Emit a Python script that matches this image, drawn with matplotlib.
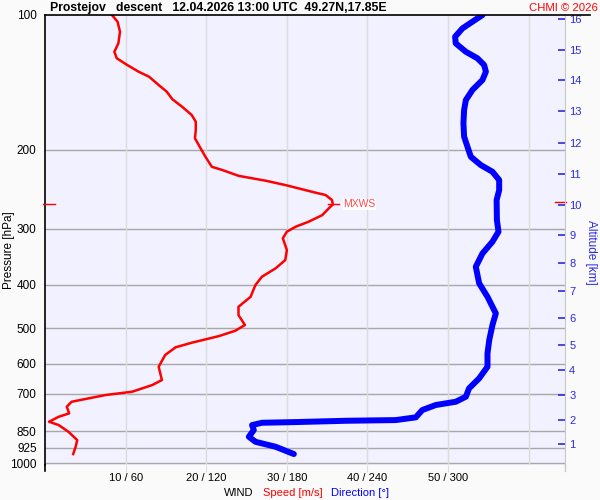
"""
Wind profile from a radiosonde descent: speed and direction versus pressure,
with altitude ticks on the right.
"""

import matplotlib
matplotlib.use('Agg')
import matplotlib.pyplot as plt
from matplotlib.lines import Line2D


TITLE = 'Prostejov   descent   12.04.2026 13:00 UTC  49.27N,17.85E'

# wind speed [m/s] against pressure [hPa]
SPEED_PRESSURE = [
    100, 103.5, 109.0, 115.7, 120.8, 124.9, 129.3, 133.8, 137.3, 143.3,
    148.3, 154.2, 160.2, 167.2, 173.0, 180.6, 188.5, 198.4, 207.2, 218.2,
    221.8, 228.5, 234.4, 239.6, 244.9, 249.3, 252.2, 258.8, 264.8, 270.1,
    279.6, 289.3, 296.8, 304.5, 315.0, 334.6, 352.3, 367.7, 383.9, 400.6,
    425.5, 447.9, 467.4, 492.0, 506.6, 520.6, 538.8, 551.6, 574.0, 609.6,
    652.7, 669.7, 693.1, 705.0, 729.7, 748.6, 774.6, 788.3, 808.7, 822.6,
    851.3, 888.6, 919.6, 954.7]
SPEED = [
    8.3, 9.0, 9.3, 9.1, 8.6, 8.9, 10.2, 11.6, 12.9, 14.1,
    15.1, 15.8, 17.0, 18.2, 18.7, 18.7, 18.6, 19.3, 19.9, 20.7,
    22.0, 24.0, 27.4, 29.8, 31.9, 33.6, 34.8, 35.6, 35.7, 35.2,
    34.4, 32.7, 31.1, 30.0, 29.5, 30.0, 29.8, 28.6, 26.9, 26.1,
    25.5, 24.0, 24.0, 24.8, 23.6, 21.6, 18.2, 16.2, 14.9, 14.1,
    14.5, 13.3, 10.8, 7.5, 3.3, 2.7, 3.0, 1.7, 0.5, 1.7,
    2.9, 4.0, 3.8, 3.5]

# wind direction [deg] against pressure [hPa]
DIR_PRESSURE = [
    100, 103.5, 107.1, 111.8, 115.7, 120.8, 124.9, 129.3, 133.8, 139.6,
    147.0, 154.8, 162.9, 174.5, 186.9, 196.8, 207.2, 216.3, 223.8, 233.5,
    245.9, 258.8, 286.8, 304.5, 320.6, 340.4, 364.6, 397.1, 425.5, 463.4,
    492.0, 531.4, 569.0, 609.6, 647.1, 681.1, 711.1, 729.7, 742.1, 761.5,
    790.7, 801.8, 804.7, 810.1, 812.9, 822.6, 843.9, 873.6, 896.6, 919.6,
    954.7]
DIRECTION = [
    325.6, 318.1, 310.7, 305.2, 305.7, 313.2, 321.8, 326.8, 328.1, 325.6,
    318.1, 313.2, 311.9, 311.4, 311.9, 314.4, 316.9, 324.4, 333.0, 338.0,
    338.0, 336.1, 336.3, 337.5, 333.0, 325.6, 320.6, 323.1, 329.3, 335.5,
    333.0, 330.6, 329.3, 329.3, 323.1, 315.6, 313.2, 305.7, 290.8, 280.8,
    275.9, 261.0, 223.7, 186.5, 161.6, 154.1, 155.4, 151.7, 156.7, 171.6,
    185.2]

PRESSURE_TICKS = [100, 200, 300, 400, 500, 600, 700, 850, 925, 1000]
WIND_TICKS = [10, 20, 30, 40, 50]

ALT_KM = list(range(1, 17))
ALT_PRESSURE = [
    908.7, 801.8, 705.6, 619.8, 545.0, 474.2, 412.7, 357.6, 309.8, 265.5,
    226.4, 193.0, 163.8, 139.6, 119.7, 102.1]

MAX_SPEED = 35.7
MAX_SPEED_PRESSURE = 264.8

RED = '#ff0000'
BLUE = '#0000ff'
ALT_BLUE = '#2a2ae6'
GRID_H = '#a8a8a8'
GRID_V = '#dcdcdc'


def main():

    plt.rcParams['font.family'] = ['Liberation Sans', 'DejaVu Sans']
    plt.rcParams['font.size'] = 8

    fig = plt.figure(figsize=(6, 5), dpi=100, facecolor='#fafafa')
    ax = fig.add_axes([0.075, 0.07, 0.8667, 0.9])
    ax.set_facecolor('#f1f1ff')

    ax.set_yscale('log')
    ax.set_ylim(1010, 100)
    ax.set_xlim(0, 64.5)

    # grid
    for p in PRESSURE_TICKS[1:]:
        ax.axhline(p, color=GRID_H, lw=1, zorder=1)
    for w in WIND_TICKS + [60]:
        ax.axvline(w, color=GRID_V, lw=1, zorder=1)

    ax.plot(SPEED, SPEED_PRESSURE, color=RED, lw=1.8, zorder=3)

    ax_dir = ax.twiny()
    ax_dir.set_xlim(0, 64.5 * 6)
    ax_dir.plot(DIRECTION, DIR_PRESSURE, color=BLUE, lw=4.3,
                solid_capstyle='round', zorder=3)
    ax_dir.axis('off')

    # max wind speed markers
    ax.plot([MAX_SPEED - 0.6, MAX_SPEED + 0.8],
            [MAX_SPEED_PRESSURE, MAX_SPEED_PRESSURE],
            color=RED, lw=1, zorder=4)
    ax.text(MAX_SPEED + 1.3, MAX_SPEED_PRESSURE, 'MXWS', color='#ff4848',
            fontsize=7.5, va='center', ha='left',
            bbox=dict(facecolor='white', edgecolor='none', pad=0.5))
    ax.plot([-0.004, 0.02], [MAX_SPEED_PRESSURE] * 2, color=RED, lw=1,
            transform=ax.get_yaxis_transform(), clip_on=False, zorder=5)
    ax.plot([0.98, 1.002], [MAX_SPEED_PRESSURE * 0.985] * 2, color=RED,
            lw=1, transform=ax.get_yaxis_transform(), clip_on=False, zorder=5)

    # axes
    for side in ('top', 'bottom', 'right'):
        ax.spines[side].set_visible(False)
    ax.spines['left'].set_color('black')
    ax.spines['left'].set_linewidth(1.2)

    ax.set_yticks(PRESSURE_TICKS)
    ax.set_yticklabels([str(p) for p in PRESSURE_TICKS])
    ax.yaxis.set_minor_locator(plt.NullLocator())
    ax.tick_params(axis='y', length=0, pad=6, labelsize=8.5)

    ax.set_xticks(WIND_TICKS)
    ax.set_xticklabels([f'{w} / {w * 6}' for w in WIND_TICKS])
    ax.tick_params(axis='x', length=5, color=GRID_V, pad=1, labelsize=8)

    # altitude axis
    ax_alt = ax.twinx()
    ax_alt.set_yscale('log')
    ax_alt.set_ylim(ax.get_ylim())
    ax_alt.set_yticks(ALT_PRESSURE)
    ax_alt.set_yticklabels([str(a) for a in ALT_KM])
    ax_alt.yaxis.set_minor_locator(plt.NullLocator())
    ax_alt.tick_params(axis='y', direction='in', length=5, color=ALT_BLUE,
                       labelcolor=ALT_BLUE, width=1.2, pad=3, labelsize=8)
    for side in ('top', 'bottom', 'left'):
        ax_alt.spines[side].set_visible(False)
    ax_alt.spines['right'].set_color('#c8c8c8')

    # frame extensions
    fig.add_artist(Line2D([45 / 600, 590 / 600], [0.97, 0.97],
                          color='black', lw=1.2))
    fig.add_artist(Line2D([45 / 600, 45 / 600], [0.07, 0.058],
                          color='black', lw=1.2))
    fig.add_artist(Line2D([565 / 600, 565 / 600], [0.07, 0.058],
                          color='#c8c8c8', lw=1))

    # texts
    fig.text(9 / 600, 1 - 250 / 500, 'Pressure [hPa]', rotation=90,
             fontsize=8.5, va='center', ha='center')
    fig.text(591 / 600, 1 - 252 / 500, 'Altitude [km]', rotation=270,
             color=ALT_BLUE, fontsize=8.5, va='center', ha='center')
    fig.text(50 / 600, 1 - 8 / 500, TITLE, fontsize=8.8, fontweight='bold',
             va='center', ha='left')
    fig.text(598 / 600, 1 - 8 / 500, 'CHMI \u00a9 2026', color=RED,
             fontsize=8.2, va='center', ha='right')
    fig.text(239 / 600, 1 - 493 / 500, 'WIND', fontsize=8,
             va='center', ha='center')
    fig.text(293 / 600, 1 - 493 / 500, 'Speed [m/s]', color=RED,
             fontsize=8, va='center', ha='center')
    fig.text(360 / 600, 1 - 493 / 500, 'Direction [\u00b0]', color=BLUE,
             fontsize=8, va='center', ha='center')

    fig.savefig('out.png', dpi=100, facecolor=fig.get_facecolor())


if __name__ == '__main__':
    main()
